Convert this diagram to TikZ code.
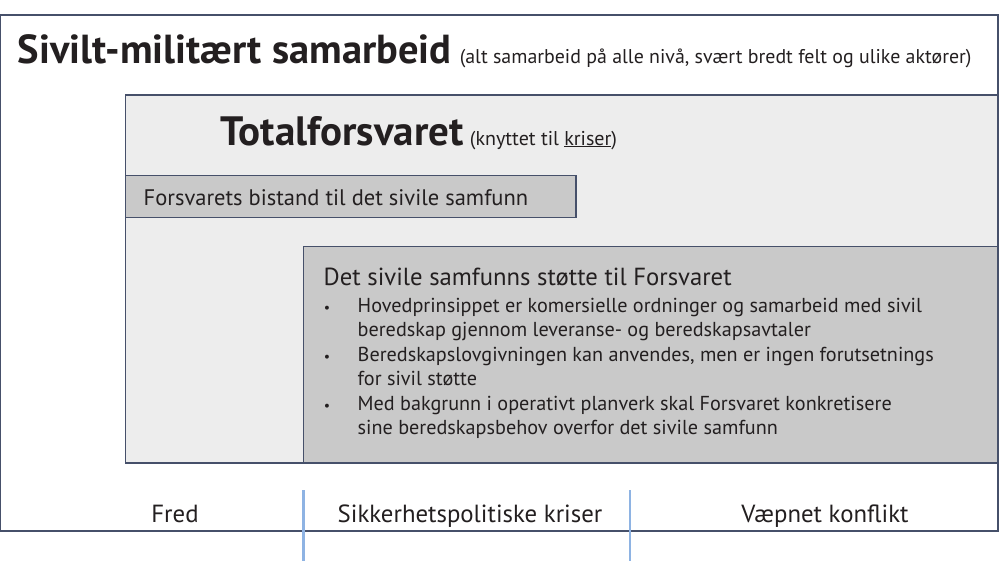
\documentclass[tikz,border=0pt]{standalone}
\usepackage{fontspec}
\setmainfont{PT Sans}
\usetikzlibrary{positioning}
\definecolor{rim}{HTML}{46506A}
\definecolor{lys}{HTML}{EDEDED}
\definecolor{mork}{HTML}{C9C9C9}
\definecolor{blaa}{HTML}{8EB3E3}
\definecolor{tekst}{HTML}{231F20}
\tikzset{every picture/.style={line width=1.4pt}}
\tikzset{felt/.style={draw=rim}, txt/.style={inner sep=0pt, anchor=base west, text=tekst},
         skille/.style={draw=blaa, line width=2.6pt}}
\newcommand{\punkt}[1]{\begin{minipage}[t]{640pt}\fontsize{20.2}{24.5}\selectfont #1\end{minipage}}

\begin{document}
\begin{tikzpicture}[x=1pt, y=-1pt]
              \useasboundingbox (0,0) rectangle (1000,576);
              \draw[felt, fill=white] (0.7,15) rectangle (998,531);
              \draw[felt, fill=lys] (125.5,95) rectangle (998,463);
              \draw[felt, fill=mork] (125.5,175.5) rectangle (576,217.5);
              \draw[felt, fill=mork] (303.5,246.5) rectangle (998,463);
              \node[txt] (tittel) at (17,63) {\fontsize{40.5}{42}\selectfont\bfseries Sivilt-militært samarbeid};
              \node[txt, right=7pt of tittel.base east, anchor=base west] (tittelinfo) {\fontsize{19.9}{22}\selectfont (alt samarbeid på alle nivå, svært bredt felt og ulike aktører)};
              \node[txt] (total) at (220,145) {\fontsize{41}{43}\selectfont\bfseries Totalforsvaret};
              \node[txt, right=5pt of total.base east, anchor=base west] (totalinfo) {\fontsize{20}{22}\selectfont (knyttet til \underline{kriser})};
              \node[txt] (bistand) at (143,205) {\fontsize{22.5}{24}\selectfont Forsvarets bistand til det sivile samfunn};
              \node[txt] (stotte) at (323,285) {\fontsize{24.7}{26}\selectfont Det sivile samfunns støtte til Forsvaret};
              \node[txt] (p1) at (357,312) {\punkt{Hovedprinsippet er komersielle ordninger og samarbeid med sivil\\ beredskap gjennom leveranse- og beredskapsavtaler}};
              \node[txt] (p2) at (357,361) {\punkt{Beredskapslovgivningen kan anvendes, men er ingen forutsetnings\\ for sivil støtte}};
              \node[txt] (p3) at (357,410) {\punkt{Med bakgrunn i operativt planverk skal Forsvaret konkretisere\\ sine beredskapsbehov overfor det sivile samfunn}};
              \foreach \p in {p1,p2,p3}
                \node[txt, anchor=base] (\p b) at ([xshift=-30pt]\p.base west) {\fontsize{14}{16}\selectfont\textbullet};
              \node[inner sep=0pt, anchor=base, text=tekst] (fred) at (175,522) {\fontsize{24.8}{26}\selectfont Fred};
              \node[inner sep=0pt, anchor=base, text=tekst] (krise) at (470,522) {\fontsize{24.8}{26}\selectfont Sikkerhetspolitiske kriser};
              \node[inner sep=0pt, anchor=base, text=tekst] (krig) at (825,522) {\fontsize{24.8}{26}\selectfont Væpnet konflikt};
              \coordinate (s1a) at (303.5,490);
              \coordinate (s1b) at (303.5,561);
              \coordinate (s2a) at (630,490);
              \coordinate (s2b) at (630,561);
              \draw[skille] (s1a) -- (s1b);
              \draw[skille] (s2a) -- (s2b);
\end{tikzpicture}
\end{document}
